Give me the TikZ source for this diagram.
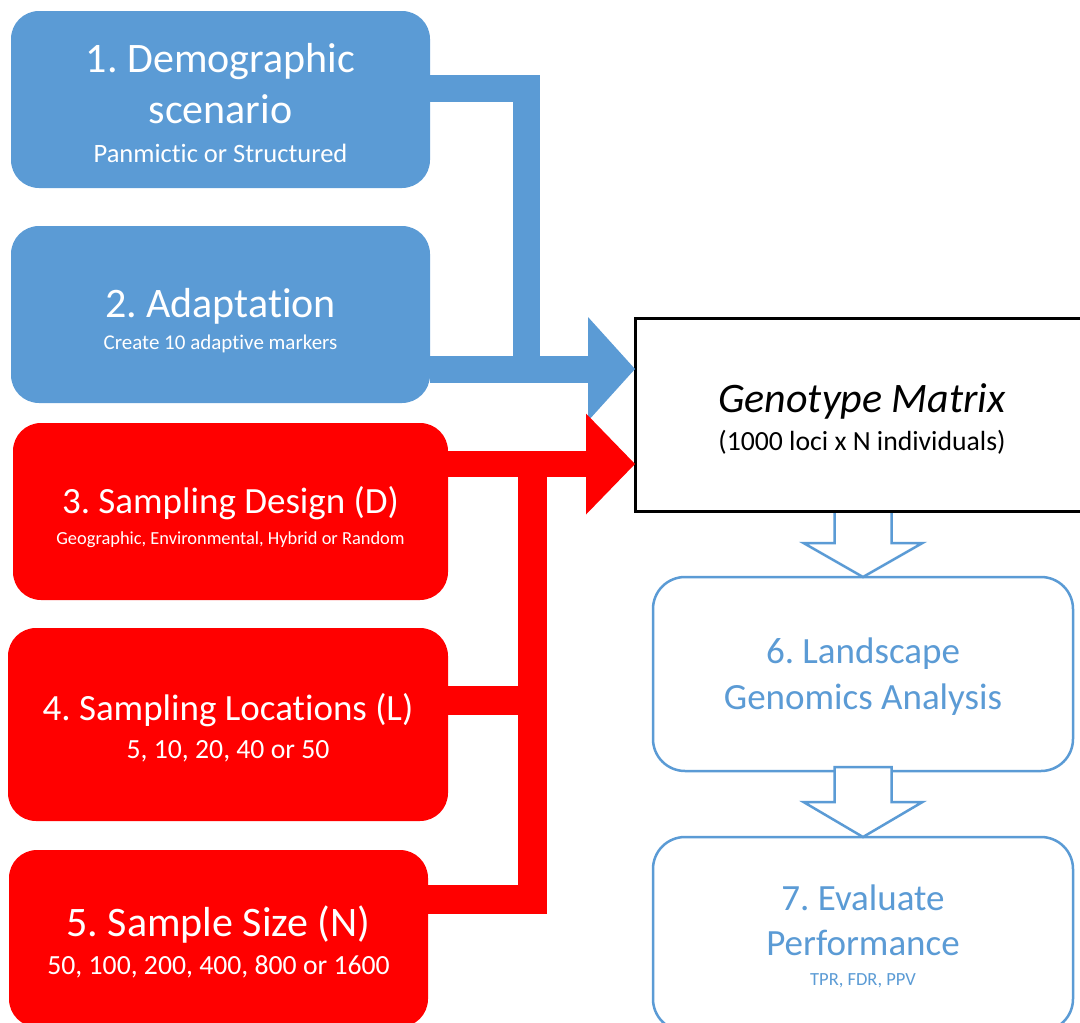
\documentclass[tikz,border=0pt]{standalone}
\usepackage{fontspec}
\setmainfont{Carlito}[RawFeature={-liga}]
\frenchspacing
\usetikzlibrary{arrows.meta,calc}

\definecolor{stepblue}{RGB}{91,155,213}
\definecolor{stepred}{RGB}{255,0,0}

\tikzset{
  inputbox/.style={rounded corners=28pt, inner sep=0pt, outer sep=0pt},
  bluebox/.style={inputbox, fill=stepblue},
  redbox/.style={inputbox, fill=stepred},
  outlinebox/.style={rounded corners=32pt, draw=stepblue, line width=2.5pt,
    fill=white, inner sep=0pt, outer sep=0pt},
  matrixbox/.style={draw=black, line width=3pt, fill=white, inner sep=0pt, outer sep=0pt},
  lbl/.style={anchor=base, inner sep=0pt, outer sep=0pt, text=white},
  bluelbl/.style={lbl, text=stepblue},
  blacklbl/.style={lbl, text=black},
  fsA/.style={font=\fontsize{42}{50}\selectfont},
  fsB/.style={font=\fontsize{37}{44}\selectfont},
  fsC/.style={font=\fontsize{27.7}{33}\selectfont},
  fsD/.style={font=\fontsize{26.5}{32}\selectfont},
  fsE/.style={font=\fontsize{21}{25}\selectfont},
  fsF/.style={font=\fontsize{18.4}{22}\selectfont},
  bluebar/.style={draw=stepblue, line width=27pt, line join=miter},
  redbar/.style={draw=stepred, line width=29pt, line join=miter},
  hollow/.style={draw=stepblue, line width=2.5pt, fill=white, line join=miter},
}

\begin{document}
\begin{tikzpicture}[x=1pt, y=-1pt]
  \useasboundingbox (0,0) rectangle (1080,1023);
  \clip (0,0) rectangle (1080,1023);

  % input boxes (left column)
  \node[bluebox, minimum width=419pt, minimum height=177pt] (b1) at (220.5,99.5) {};
  \node[bluebox, minimum width=419pt, minimum height=177pt] (b2) at (220.5,314.5) {};
  \node[redbox, minimum width=435pt, minimum height=177pt] (b3) at (230.5,511.5) {};
  \node[redbox, minimum width=440pt, minimum height=193pt] (b4) at (228,724.5) {};
  \node[redbox, minimum width=419pt, minimum height=177pt] (b5) at (218.5,938.5) {};

  % analysis boxes (right column)
  \node[outlinebox, minimum width=420pt, minimum height=194pt] (b6) at (863,674) {};
  \node[outlinebox, minimum width=420pt, minimum height=194pt] (b7) at (863,934) {};

  % hollow arrow from the genotype matrix down to the analysis
  \draw[hollow] ($(b6.north)+(-28.5,-66)$) -- ++(0,32) -- ++(-31,0) -- (b6.north)
    -- ++(59.5,-34) -- ++(-31,0) -- ++(0,-32);

  % genotype matrix
  \node[matrixbox, minimum width=454pt, minimum height=193pt] (gm) at (862,414.5) {};

  % hollow arrow from the analysis to the evaluation
  \draw[hollow] (b7.north) -- ++(-59.5,-35) -- ++(31,0) -- ++(0,-35) -- ++(57,0)
    -- ++(0,35) -- ++(31,0) -- cycle;

  % blue elbow connector (boxes 1 and 2 into the matrix)
  \coordinate (bj1) at (526,88);
  \coordinate (bj2) at (526,369);
  \coordinate (bin) at ($(gm.north west)+(0,51)$);
  \draw[bluebar] (b1.east |- bj1) -- (bj1) -- (bj2);
  \draw[bluebar, -{Triangle[length=47pt, width=104pt, line width=0pt]}]
    (b2.east |- bj2) -- (bin);

  % red elbow connector (boxes 3, 4 and 5 into the matrix)
  \coordinate (rj3) at (532,464);
  \coordinate (rj4) at (532,700.5);
  \coordinate (rj5) at (532,899);
  \coordinate (rin) at ($(gm.north west)+(0,146)$);
  \draw[redbar] (b5.east |- rj5) -- (rj5) -- (rj3);
  \draw[redbar] (b4.east |- rj4) -- (rj4);
  \draw[redbar, line width=26pt, -{Triangle[length=49pt, width=101pt, line width=0pt]}]
    (b3.east |- rj3) -- (rin);

  % texts
  \node[lbl, fsA] (t1a) at ($(b1.north)+(0,61)$) {1. Demographic};
  \node[lbl, fsA] (t1b) at ($(b1.north)+(0,112)$) {scenario};
  \node[lbl, fsD] (t1c) at ($(b1.north)+(0,151)$) {Panmictic or Structured};

  \node[lbl, fsA] (t2a) at ($(b2.north)+(0,91)$) {2. Adaptation};
  \node[lbl, fsE] (t2b) at ($(b2.north)+(0,123)$) {Create 10 adaptive markers};

  \node[lbl, fsB] (t3a) at ($(b3.north)+(0,90)$) {3. Sampling Design (D)};
  \node[lbl, fsF] (t3b) at ($(b3.north)+(0,121)$) {Geographic, Environmental, Hybrid or Random};

  \node[lbl, fsB] (t4a) at ($(b4.north)+(0,92)$) {4. Sampling Locations (L)};
  \node[lbl, fsC] (t4b) at ($(b4.north)+(0,130)$) {5, 10, 20, 40 or 50};

  \node[lbl, fsA] (t5a) at ($(b5.north)+(0,86)$) {5. Sample Size (N)};
  \node[lbl, fsC] (t5b) at ($(b5.north)+(0,124)$) {50, 100, 200, 400, 800 or 1600};

  \node[blacklbl, fsA] (tga) at ($(gm.north)+(0,94)$) {\itshape Genotype Matrix};
  \node[blacklbl, fsC] (tgb) at ($(gm.north)+(0,132)$) {(1000 loci x N individuals)};

  \node[bluelbl, fsB] (t6a) at ($(b6.north)+(0,86)$) {6. Landscape};
  \node[bluelbl, fsB] (t6b) at ($(b6.north)+(0,132)$) {Genomics Analysis};

  \node[bluelbl, fsB] (t7a) at ($(b7.north)+(0,73)$) {7. Evaluate};
  \node[bluelbl, fsB] (t7b) at ($(b7.north)+(0,118)$) {Performance};
  \node[bluelbl, font=\fontsize{18.5}{22}\selectfont] (t7c) at ($(b7.north)+(0,148)$) {TPR, FDR, PPV};
\end{tikzpicture}
\end{document}
